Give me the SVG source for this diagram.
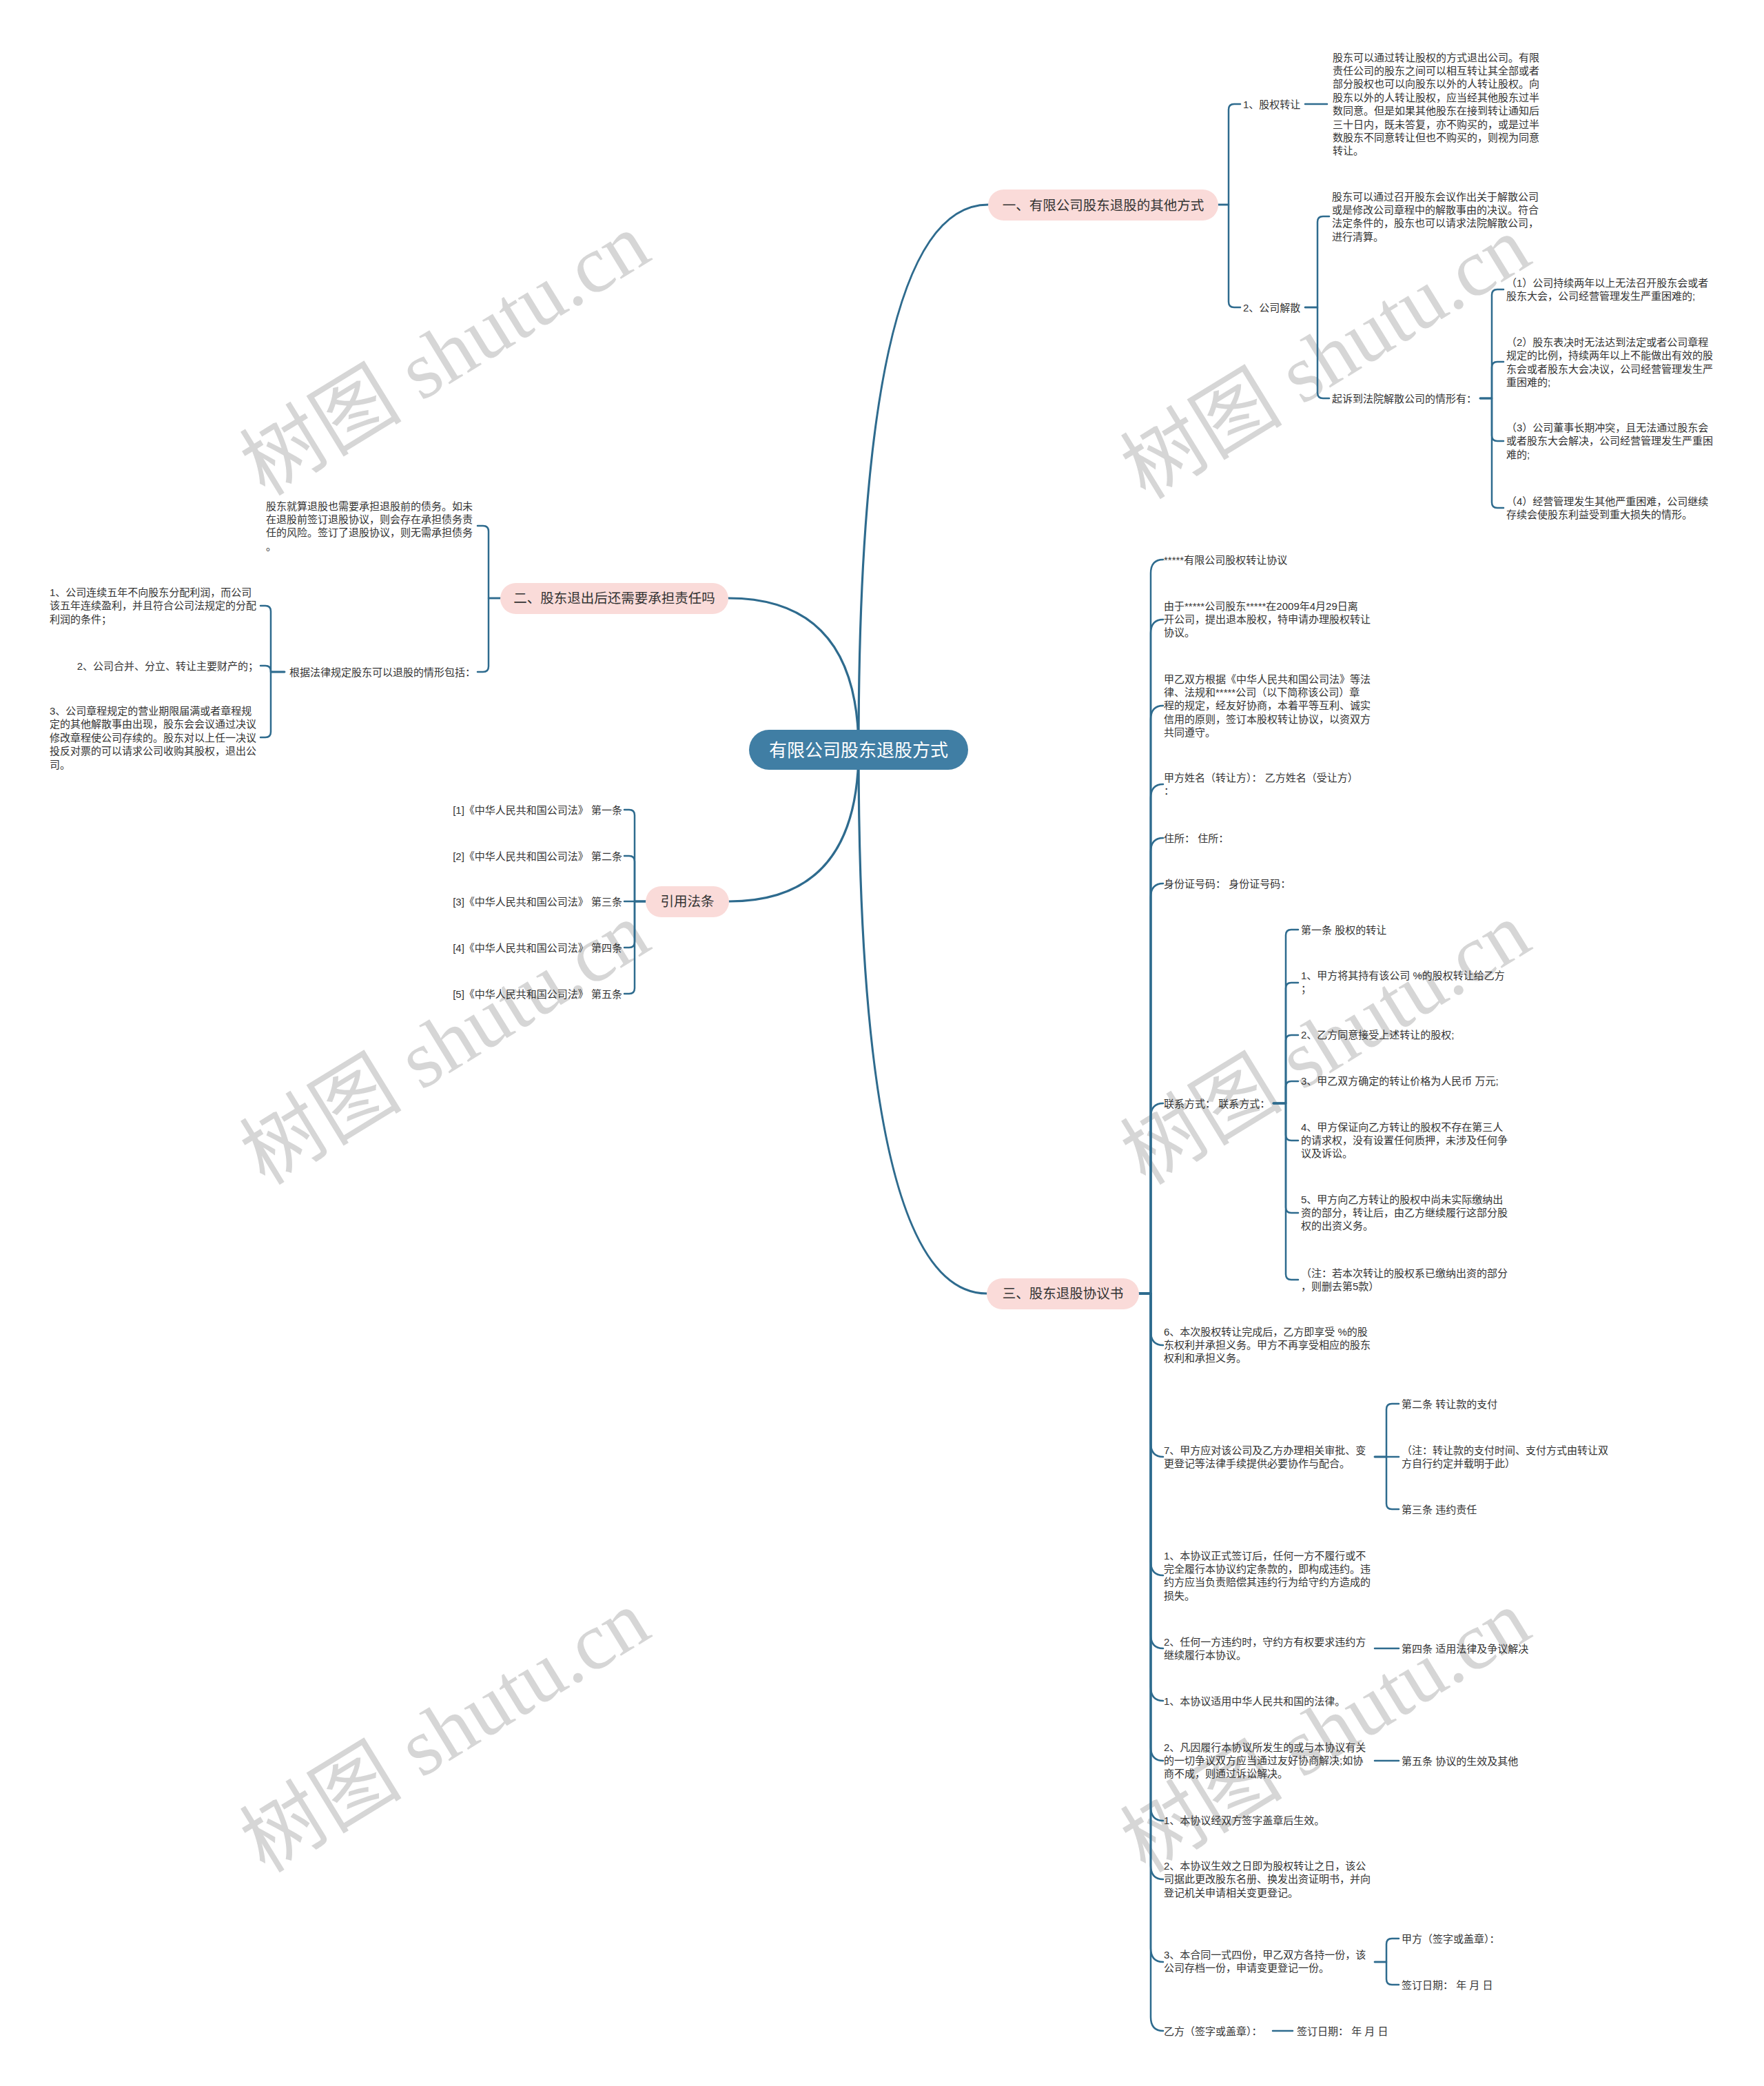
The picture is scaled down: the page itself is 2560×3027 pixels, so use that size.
<svg xmlns="http://www.w3.org/2000/svg" width="2560" height="3027" viewBox="0 0 2560 3027">
<style>
.ln{fill:none;stroke:#2e6b8e;stroke-width:2.5;stroke-linecap:round;stroke-linejoin:round}
.mn{stroke-width:3.2}
.t{font-family:'Liberation Sans','Noto Sans CJK SC',sans-serif;font-size:15px;fill:#333}
.bt{font-family:'Liberation Sans','Noto Sans CJK SC',sans-serif;font-size:19.5px;fill:#333;text-anchor:middle}
.ct{font-family:'Liberation Sans','Noto Sans CJK SC',sans-serif;font-size:26px;fill:#fff;text-anchor:middle}
.pk{fill:#fadbd9}
.wm{font-family:'Liberation Serif','Noto Sans CJK SC',serif;font-size:118px;fill:#d6d6d6;text-anchor:middle}
.e{text-anchor:end}
</style>
<rect width="2560" height="3027" fill="#fff"/>
<g id="watermarks">
<text class="wm" transform="translate(647,516) rotate(-31.5)" x="0" y="38">树图 shutu.cn</text>
<text class="wm" transform="translate(1925,521) rotate(-31.5)" x="0" y="38">树图 shutu.cn</text>
<text class="wm" transform="translate(647,1516) rotate(-31.5)" x="0" y="38">树图 shutu.cn</text>
<text class="wm" transform="translate(1925,1516) rotate(-31.5)" x="0" y="38">树图 shutu.cn</text>
<text class="wm" transform="translate(647,2514) rotate(-31.5)" x="0" y="38">树图 shutu.cn</text>
<text class="wm" transform="translate(1925,2514) rotate(-31.5)" x="0" y="38">树图 shutu.cn</text>
</g>
<g id="connectors">
<path class="ln mn" d="M1246 1088 Q1246 297 1434 297"/>
<path class="ln mn" d="M1246 1088 Q1246 868 1057 868"/>
<path class="ln mn" d="M1246 1088 Q1246 1308 1058 1308"/>
<path class="ln mn" d="M1246 1088 Q1246 1877 1432 1877"/>
<path class="ln" d="M1768 297 H1783 V159 Q1783 151 1791 151 H1800"/>
<path class="ln" d="M1768 297 H1783 V438 Q1783 446 1791 446 H1800"/>
<path class="ln" d="M1894 151 H1926"/>
<path class="ln" d="M1894 446 H1912 V322 Q1912 314 1920 314 H1929"/>
<path class="ln" d="M1894 446 H1912 V570 Q1912 578 1920 578 H1929"/>
<path class="ln" d="M2148 578 H2165 V428 Q2165 420 2173 420 H2182"/>
<path class="ln" d="M2148 578 H2165 V533 Q2165 525 2173 525 H2182"/>
<path class="ln" d="M2148 578 H2165 V632 Q2165 640 2173 640 H2182"/>
<path class="ln" d="M2148 578 H2165 V729 Q2165 737 2173 737 H2182"/>
<path class="ln" d="M726 868 H709 V771 Q709 763 701 763 H693"/>
<path class="ln" d="M726 868 H709 V967 Q709 975 701 975 H693"/>
<path class="ln" d="M413 975 H393 V887 Q393 879 385 879 H378"/>
<path class="ln" d="M413 975 H393 V974 Q393 966 385 966 H378"/>
<path class="ln" d="M413 975 H393 V1062 Q393 1070 385 1070 H378"/>
<path class="ln" d="M937 1308 H921 V1183 Q921 1175 913 1175 H906"/>
<path class="ln" d="M937 1308 H921 V1250 Q921 1242 913 1242 H906"/>
<path class="ln" d="M937 1308 H906"/>
<path class="ln" d="M937 1308 H921 V1367 Q921 1375 913 1375 H906"/>
<path class="ln" d="M937 1308 H921 V1434 Q921 1442 913 1442 H906"/>
<path class="ln" d="M1653 1877 H1670 V832 Q1670 812 1688 812"/>
<path class="ln" d="M1653 1877 H1670 V919 Q1670 899 1688 899"/>
<path class="ln" d="M1653 1877 H1670 V1044 Q1670 1024 1688 1024"/>
<path class="ln" d="M1653 1877 H1670 V1158 Q1670 1138 1688 1138"/>
<path class="ln" d="M1653 1877 H1670 V1236 Q1670 1216 1688 1216"/>
<path class="ln" d="M1653 1877 H1670 V1302 Q1670 1282 1688 1282"/>
<path class="ln" d="M1653 1877 H1670 V1621 Q1670 1601 1688 1601"/>
<path class="ln" d="M1653 1877 H1670 V1932 Q1670 1952 1688 1952"/>
<path class="ln" d="M1653 1877 H1670 V2094 Q1670 2114 1688 2114"/>
<path class="ln" d="M1653 1877 H1670 V2266 Q1670 2286 1688 2286"/>
<path class="ln" d="M1653 1877 H1670 V2372 Q1670 2392 1688 2392"/>
<path class="ln" d="M1653 1877 H1670 V2448 Q1670 2468 1688 2468"/>
<path class="ln" d="M1653 1877 H1670 V2535 Q1670 2555 1688 2555"/>
<path class="ln" d="M1653 1877 H1670 V2622 Q1670 2642 1688 2642"/>
<path class="ln" d="M1653 1877 H1670 V2707 Q1670 2727 1688 2727"/>
<path class="ln" d="M1653 1877 H1670 V2827 Q1670 2847 1688 2847"/>
<path class="ln" d="M1653 1877 H1670 V2927 Q1670 2947 1688 2947"/>
<path class="ln" d="M1848 1601 H1866 V1357 Q1866 1349 1874 1349 H1884"/>
<path class="ln" d="M1848 1601 H1866 V1434 Q1866 1426 1874 1426 H1884"/>
<path class="ln" d="M1848 1601 H1866 V1510 Q1866 1502 1874 1502 H1884"/>
<path class="ln" d="M1848 1601 H1866 V1577 Q1866 1569 1874 1569 H1884"/>
<path class="ln" d="M1848 1601 H1866 V1647 Q1866 1655 1874 1655 H1884"/>
<path class="ln" d="M1848 1601 H1866 V1752 Q1866 1760 1874 1760 H1884"/>
<path class="ln" d="M1848 1601 H1866 V1849 Q1866 1857 1874 1857 H1884"/>
<path class="ln" d="M1995 2114 H2012 V2045 Q2012 2037 2020 2037 H2030"/>
<path class="ln" d="M1995 2114 H2030"/>
<path class="ln" d="M1995 2114 H2012 V2182 Q2012 2190 2020 2190 H2030"/>
<path class="ln" d="M1995 2392 H2030"/>
<path class="ln" d="M1995 2555 H2030"/>
<path class="ln" d="M1995 2847 H2012 V2821 Q2012 2813 2020 2813 H2030"/>
<path class="ln" d="M1995 2847 H2012 V2872 Q2012 2880 2020 2880 H2030"/>
<path class="ln" d="M1847 2947 H1876"/>
</g>
<g id="center">
<rect x="1087" y="1059" width="318" height="58" rx="29" fill="#407ea4"/>
<text class="ct" x="1246" y="1097.5">有限公司股东退股方式</text>
</g>
<g id="branch1">
<rect class="pk" x="1434" y="275" width="334" height="45" rx="22.5"/>
<text class="bt" x="1601" y="304.5">一、有限公司股东退股的其他方式</text>
</g>
<g id="branch2">
<rect class="pk" x="726" y="846" width="331" height="45" rx="22.5"/>
<text class="bt" x="891.5" y="875">二、股东退出后还需要承担责任吗</text>
</g>
<g id="branch-law">
<rect class="pk" x="937" y="1286" width="121" height="45" rx="22.5"/>
<text class="bt" x="997.5" y="1315">引用法条</text>
</g>
<g id="branch3">
<rect class="pk" x="1432" y="1855" width="221" height="45" rx="22.5"/>
<text class="bt" x="1542.5" y="1884">三、股东退股协议书</text>
</g>
<g id="b1-nodes">
<g id="n-1-1"><text class="t" x="1804" y="156.5">1、股权转让</text></g>
<g id="n-1-1-a"><text class="t">
<tspan x="1934" y="88.5">股东可以通过转让股权的方式退出公司。有限</tspan>
<tspan x="1934" y="107.9">责任公司的股东之间可以相互转让其全部或者</tspan>
<tspan x="1934" y="127.3">部分股权也可以向股东以外的人转让股权。向</tspan>
<tspan x="1934" y="146.7">股东以外的人转让股权，应当经其他股东过半</tspan>
<tspan x="1934" y="166.1">数同意。但是如果其他股东在接到转让通知后</tspan>
<tspan x="1934" y="185.5">三十日内，既未答复，亦不购买的，或是过半</tspan>
<tspan x="1934" y="204.9">数股东不同意转让但也不购买的，则视为同意</tspan>
<tspan x="1934" y="224.3">转让。</tspan></text></g>
<g id="n-1-2"><text class="t" x="1804" y="451.5">2、公司解散</text></g>
<g id="n-1-2-a"><text class="t">
<tspan x="1933" y="290.5">股东可以通过召开股东会议作出关于解散公司</tspan>
<tspan x="1933" y="309.9">或是修改公司章程中的解散事由的决议。符合</tspan>
<tspan x="1933" y="329.3">法定条件的，股东也可以请求法院解散公司，</tspan>
<tspan x="1933" y="348.7">进行清算。</tspan></text></g>
<g id="n-1-2-b"><text class="t" x="1933" y="583.5">起诉到法院解散公司的情形有：</text></g>
<g id="n-1-2-b1"><text class="t">
<tspan x="2186" y="415.5">（1）公司持续两年以上无法召开股东会或者</tspan>
<tspan x="2186" y="434.9">股东大会，公司经营管理发生严重困难的;</tspan></text></g>
<g id="n-1-2-b2"><text class="t">
<tspan x="2186" y="502">（2）股东表决时无法达到法定或者公司章程</tspan>
<tspan x="2186" y="521.4">规定的比例，持续两年以上不能做出有效的股</tspan>
<tspan x="2186" y="540.8">东会或者股东大会决议，公司经营管理发生严</tspan>
<tspan x="2186" y="560.2">重困难的;</tspan></text></g>
<g id="n-1-2-b3"><text class="t">
<tspan x="2186" y="626">（3）公司董事长期冲突，且无法通过股东会</tspan>
<tspan x="2186" y="645.4">或者股东大会解决，公司经营管理发生严重困</tspan>
<tspan x="2186" y="664.8">难的;</tspan></text></g>
<g id="n-1-2-b4"><text class="t">
<tspan x="2186" y="732.5">（4）经营管理发生其他严重困难，公司继续</tspan>
<tspan x="2186" y="751.9">存续会使股东利益受到重大损失的情形。</tspan></text></g>
</g>
<g id="b2-nodes">
<g id="n-2-a"><text class="t">
<tspan x="386" y="739.5">股东就算退股也需要承担退股前的债务。如未</tspan>
<tspan x="386" y="758.9">在退股前签订退股协议，则会存在承担债务责</tspan>
<tspan x="386" y="778.3">任的风险。签订了退股协议，则无需承担债务</tspan>
<tspan x="386" y="797.7">。</tspan></text></g>
<g id="n-2-b"><text class="t e" x="690" y="980.5">根据法律规定股东可以退股的情形包括：</text></g>
<g id="n-2-b1"><text class="t">
<tspan x="72" y="865">1、公司连续五年不向股东分配利润，而公司</tspan>
<tspan x="72" y="884.4">该五年连续盈利，并且符合公司法规定的分配</tspan>
<tspan x="72" y="903.8">利润的条件；</tspan></text></g>
<g id="n-2-b2"><text class="t e" x="375" y="971.5">2、公司合并、分立、转让主要财产的；</text></g>
<g id="n-2-b3"><text class="t">
<tspan x="72" y="1037">3、公司章程规定的营业期限届满或者章程规</tspan>
<tspan x="72" y="1056.4">定的其他解散事由出现，股东会会议通过决议</tspan>
<tspan x="72" y="1075.8">修改章程使公司存续的。股东对以上任一决议</tspan>
<tspan x="72" y="1095.2">投反对票的可以请求公司收购其股权，退出公</tspan>
<tspan x="72" y="1114.6">司。</tspan></text></g>
</g>
<g id="law-nodes">
<g id="law-1"><text class="t e" x="903" y="1180.5">[1]《中华人民共和国公司法》 第一条</text></g>
<g id="law-2"><text class="t e" x="903" y="1247.5">[2]《中华人民共和国公司法》 第二条</text></g>
<g id="law-3"><text class="t e" x="903" y="1313.5">[3]《中华人民共和国公司法》 第三条</text></g>
<g id="law-4"><text class="t e" x="903" y="1380.5">[4]《中华人民共和国公司法》 第四条</text></g>
<g id="law-5"><text class="t e" x="903" y="1447.5">[5]《中华人民共和国公司法》 第五条</text></g>
</g>
<g id="b3-nodes">
<g id="n-3-1"><text class="t" x="1689" y="817.5">*****有限公司股权转让协议</text></g>
<g id="n-3-2"><text class="t">
<tspan x="1689" y="884.5">由于*****公司股东*****在2009年4月29日离</tspan>
<tspan x="1689" y="903.9">开公司，提出退本股权，特申请办理股权转让</tspan>
<tspan x="1689" y="923.3">协议。</tspan></text></g>
<g id="n-3-3"><text class="t">
<tspan x="1689" y="990.5">甲乙双方根据《中华人民共和国公司法》等法</tspan>
<tspan x="1689" y="1009.9">律、法规和*****公司（以下简称该公司）章</tspan>
<tspan x="1689" y="1029.3">程的规定，经友好协商，本着平等互利、诚实</tspan>
<tspan x="1689" y="1048.7">信用的原则，签订本股权转让协议，以资双方</tspan>
<tspan x="1689" y="1068.1">共同遵守。</tspan></text></g>
<g id="n-3-4"><text class="t">
<tspan x="1689" y="1134">甲方姓名（转让方）： 乙方姓名（受让方）</tspan>
<tspan x="1689" y="1153.4">：</tspan></text></g>
<g id="n-3-5"><text class="t" x="1689" y="1221.5">住所： 住所：</text></g>
<g id="n-3-6"><text class="t" x="1689" y="1287.5">身份证号码： 身份证号码：</text></g>
<g id="n-3-7"><text class="t" x="1689" y="1606.5">联系方式： 联系方式：</text></g>
<g id="n-3-7-1"><text class="t" x="1888" y="1354.5">第一条 股权的转让</text></g>
<g id="n-3-7-2"><text class="t">
<tspan x="1888" y="1421">1、甲方将其持有该公司 %的股权转让给乙方</tspan>
<tspan x="1888" y="1440.4">；</tspan></text></g>
<g id="n-3-7-3"><text class="t" x="1888" y="1506.5">2、乙方同意接受上述转让的股权;</text></g>
<g id="n-3-7-4"><text class="t" x="1888" y="1574">3、甲乙双方确定的转让价格为人民币 万元;</text></g>
<g id="n-3-7-5"><text class="t">
<tspan x="1888" y="1640.5">4、甲方保证向乙方转让的股权不存在第三人</tspan>
<tspan x="1888" y="1659.9">的请求权，没有设置任何质押，未涉及任何争</tspan>
<tspan x="1888" y="1679.3">议及诉讼。</tspan></text></g>
<g id="n-3-7-6"><text class="t">
<tspan x="1888" y="1745.5">5、甲方向乙方转让的股权中尚未实际缴纳出</tspan>
<tspan x="1888" y="1764.9">资的部分，转让后，由乙方继续履行这部分股</tspan>
<tspan x="1888" y="1784.3">权的出资义务。</tspan></text></g>
<g id="n-3-7-7"><text class="t">
<tspan x="1888" y="1852.5">（注：若本次转让的股权系已缴纳出资的部分</tspan>
<tspan x="1888" y="1871.9">，则删去第5款）</tspan></text></g>
<g id="n-3-8"><text class="t">
<tspan x="1689" y="1937.5">6、本次股权转让完成后，乙方即享受 %的股</tspan>
<tspan x="1689" y="1956.9">东权利并承担义务。甲方不再享受相应的股东</tspan>
<tspan x="1689" y="1976.3">权利和承担义务。</tspan></text></g>
<g id="n-3-9"><text class="t">
<tspan x="1689" y="2109.5">7、甲方应对该公司及乙方办理相关审批、变</tspan>
<tspan x="1689" y="2128.9">更登记等法律手续提供必要协作与配合。</tspan></text></g>
<g id="n-3-9-1"><text class="t" x="2034" y="2042.5">第二条 转让款的支付</text></g>
<g id="n-3-9-2"><text class="t">
<tspan x="2034" y="2109.5">（注：转让款的支付时间、支付方式由转让双</tspan>
<tspan x="2034" y="2128.9">方自行约定并载明于此）</tspan></text></g>
<g id="n-3-9-3"><text class="t" x="2034" y="2195.5">第三条 违约责任</text></g>
<g id="n-3-10"><text class="t">
<tspan x="1689" y="2262.5">1、本协议正式签订后，任何一方不履行或不</tspan>
<tspan x="1689" y="2281.9">完全履行本协议约定条款的，即构成违约。违</tspan>
<tspan x="1689" y="2301.3">约方应当负责赔偿其违约行为给守约方造成的</tspan>
<tspan x="1689" y="2320.7">损失。</tspan></text></g>
<g id="n-3-11"><text class="t">
<tspan x="1689" y="2387.5">2、任何一方违约时，守约方有权要求违约方</tspan>
<tspan x="1689" y="2406.9">继续履行本协议。</tspan></text></g>
<g id="n-3-11-1"><text class="t" x="2034" y="2397.5">第四条 适用法律及争议解决</text></g>
<g id="n-3-12"><text class="t" x="1689" y="2473.5">1、本协议适用中华人民共和国的法律。</text></g>
<g id="n-3-13"><text class="t">
<tspan x="1689" y="2540.5">2、凡因履行本协议所发生的或与本协议有关</tspan>
<tspan x="1689" y="2559.9">的一切争议双方应当通过友好协商解决;如协</tspan>
<tspan x="1689" y="2579.3">商不成，则通过诉讼解决。</tspan></text></g>
<g id="n-3-13-1"><text class="t" x="2034" y="2560.5">第五条 协议的生效及其他</text></g>
<g id="n-3-14"><text class="t" x="1689" y="2646.5">1、本协议经双方签字盖章后生效。</text></g>
<g id="n-3-15"><text class="t">
<tspan x="1689" y="2713">2、本协议生效之日即为股权转让之日，该公</tspan>
<tspan x="1689" y="2732.4">司据此更改股东名册、换发出资证明书，并向</tspan>
<tspan x="1689" y="2751.8">登记机关申请相关变更登记。</tspan></text></g>
<g id="n-3-16"><text class="t">
<tspan x="1689" y="2842">3、本合同一式四份，甲乙双方各持一份，该</tspan>
<tspan x="1689" y="2861.4">公司存档一份，申请变更登记一份。</tspan></text></g>
<g id="n-3-16-1"><text class="t" x="2034" y="2818.5">甲方（签字或盖章）：</text></g>
<g id="n-3-16-2"><text class="t" x="2034" y="2885.5">签订日期： 年 月 日</text></g>
<g id="n-3-17"><text class="t" x="1689" y="2952.5">乙方（签字或盖章）：</text></g>
<g id="n-3-17-1"><text class="t" x="1882" y="2952.5">签订日期： 年 月 日</text></g>
</g>
</svg>
